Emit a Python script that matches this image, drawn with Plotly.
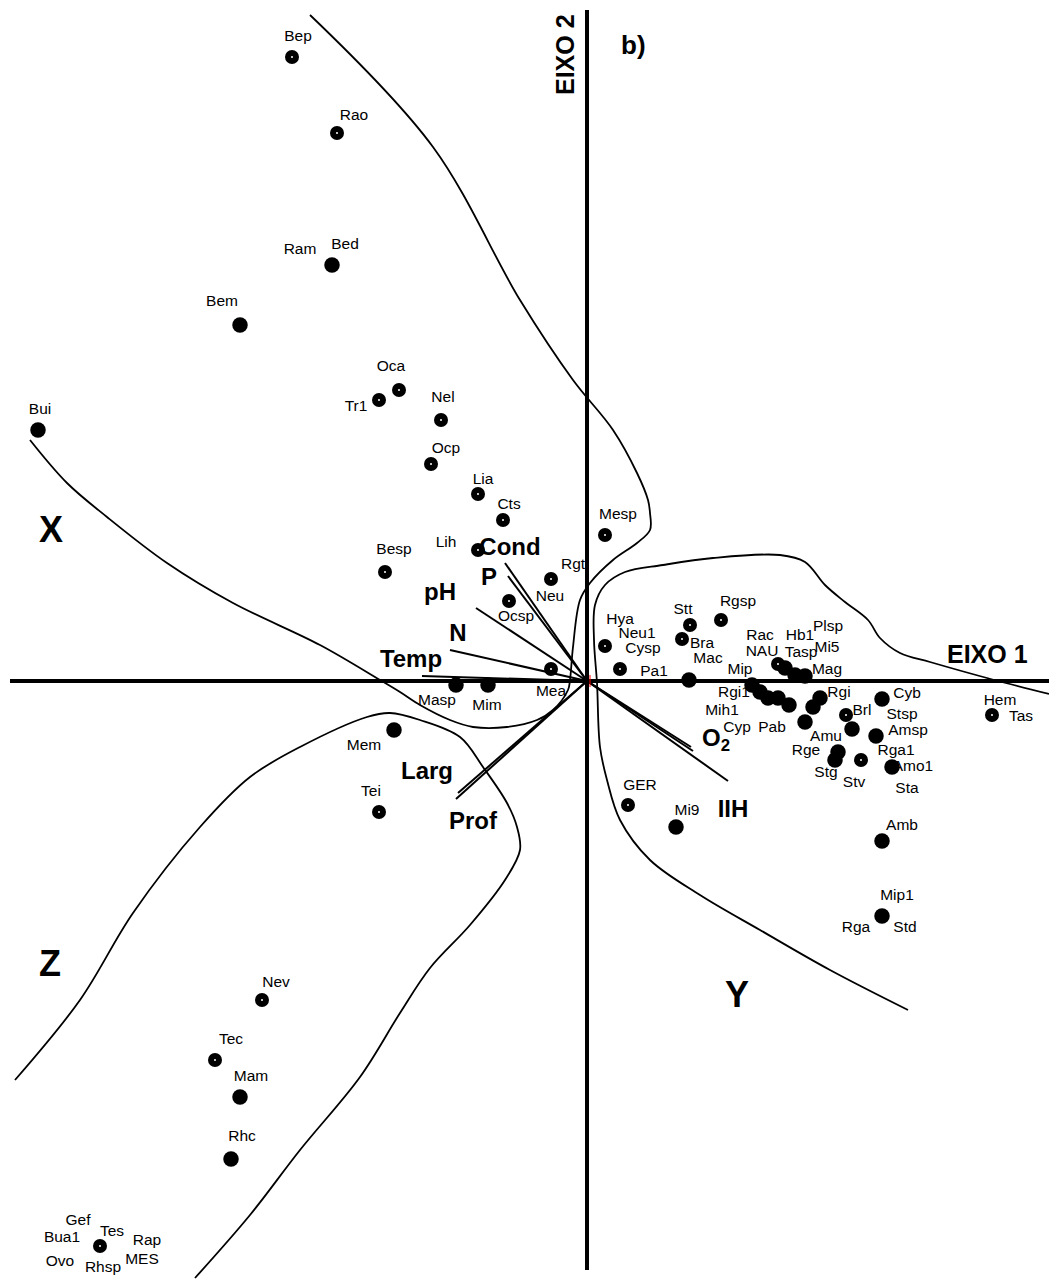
import plotly.graph_objects as go

# --- Ordination scores of the taxa (axis 1, axis 2) ---
taxa_x = [-2.95, -2.50, -2.55, -3.47, -1.88, -2.08, -1.46, -1.56, -1.09, -0.84,
          -5.49, -2.02, -1.09, -0.36, -0.78, 0.18, -0.36, -1.31, -0.99, -1.93,
          -2.08, -3.25, -3.72, -3.47, -3.56, -4.87,
          0.18, 0.33, 1.02, 1.03, 0.95, 1.34,
          1.91, 1.98, 2.08, 2.18,
          1.65, 1.73, 1.81, 1.91, 2.02, 2.26, 2.33, 2.18,
          2.59, 2.95, 2.65, 2.89, 2.48, 2.51, 2.74, 3.05, 4.05, 2.95, 2.95,
          0.41, 0.89]
taxa_y = [6.24, 5.48, 4.16, 3.56, 2.91, 2.81, 2.61, 2.17, 1.87, 1.61,
          2.51, 1.09, 1.31, 1.02, 0.80, 1.46, 0.12, -0.04, -0.04, -0.49,
          -1.31, -3.19, -3.79, -4.16, -4.78, -5.65,
          0.35, 0.12, 0.01, 0.56, 0.42, 0.61,
          0.17, 0.13, 0.06, 0.05,
          -0.04, -0.11, -0.17, -0.17, -0.24, -0.26, -0.17, -0.41,
          -0.34, -0.18, -0.48, -0.55, -0.79, -0.71, -0.79, -0.86, -0.34, -1.60, -2.35,
          -1.24, -1.46]

# --- Taxon codes and where they are written ---
taxa_names = ["Bep", "Rao", "Ram", "Bed", "Bem", "Oca", "Tr1", "Nel", "Ocp", "Lia",
              "Cts", "Bui", "Besp", "Lih", "Rgt", "Neu", "Ocsp", "Mesp", "Mea",
              "Masp", "Mim", "Mem", "Tei", "Nev", "Tec", "Mam", "Rhc",
              "Gef", "Tes", "Bua1", "Rap", "Ovo", "Rhsp", "MES",
              "Hya", "Neu1", "Cysp", "Pa1", "Stt", "Bra", "Mac", "Rgsp",
              "Rac", "NAU", "Mip", "Hb1", "Tasp", "Plsp", "Mi5", "Mag",
              "Rgi1", "Mih1", "Cyp", "Pab", "Rgi", "Brl", "Amu", "Rge", "Stg",
              "Stv", "Cyb", "Stsp", "Amsp", "Rga1", "Amo1", "Sta", "Hem", "Tas",
              "Amb", "Mip1", "Rga", "Std", "GER", "Mi9"]
name_x = [-2.89, -2.33, -2.87, -2.42, -3.65, -1.96, -2.31, -1.44, -1.41, -1.04,
          -0.78, -5.47, -1.93, -1.41, -0.14, -0.37, -0.71, 0.31, -0.36,
          -1.50, -1.00, -2.23, -2.16, -3.11, -3.56, -3.36, -3.45,
          -5.09, -4.75, -5.25, -4.40, -5.27, -4.84, -4.45,
          0.33, 0.50, 0.56, 0.67, 0.96, 1.15, 1.21, 1.51,
          1.73, 1.75, 1.53, 2.13, 2.14, 2.41, 2.40, 2.40,
          1.47, 1.35, 1.50, 1.85, 2.52, 2.75, 2.39, 2.19, 2.39,
          2.67, 3.20, 3.15, 3.21, 3.09, 3.26, 3.20, 4.13, 4.34,
          3.15, 3.10, 2.69, 3.18, 0.53, 1.00]
name_y = [6.44, 5.65, 4.31, 4.36, 3.79, 3.14, 2.74, 2.83, 2.32, 2.01,
          1.76, 2.71, 1.31, 1.38, 1.16, 0.84, 0.64, 1.66, -0.11,
          -0.20, -0.25, -0.65, -1.11, -3.02, -3.59, -3.96, -4.56,
          -5.40, -5.51, -5.57, -5.60, -5.81, -5.87, -5.79,
          0.61, 0.47, 0.32, 0.09, 0.71, 0.37, 0.22, 0.79,
          0.45, 0.29, 0.11, 0.45, 0.28, 0.54, 0.33, 0.11,
          -0.12, -0.30, -0.47, -0.47, -0.12, -0.30, -0.56, -0.70, -0.92,
          -1.02, -0.13, -0.34, -0.50, -0.70, -0.86, -1.08, -0.20, -0.36,
          -1.45, -2.15, -2.47, -2.47, -1.05, -1.30]

# --- Environmental variables (biplot arrows) ---
env_names = ["Cond", "P", "pH", "N", "Temp", "Larg", "Prof", "O<sub>2</sub>", "", "IIH"]
env_x = [-0.82, -0.79, -1.11, -1.37, -1.65, -1.29, -1.31, 1.06, 1.04, 1.41]
env_y = [1.18, 1.05, 0.73, 0.31, 0.05, -1.12, -1.18, -0.70, -0.66, -1.00]
env_label_x = [-0.77, -0.98, -1.47, -1.29, -1.76, -1.60, -1.14, 1.29, None, 1.46]
env_label_y = [1.32, 1.02, 0.87, 0.46, 0.20, -0.92, -1.42, -0.59, None, -1.30]

# --- Group envelopes ---
group_x_u = [-5.57, -5.20, -4.80, -4.20, -3.54, -2.67, -2.07, -1.87, -1.67, -1.37,
             -1.14, -0.80, -0.50, -0.34, -0.19, -0.17, -0.14, -0.07, 0.03, 0.26,
             0.50, 0.63, 0.63, 0.61, 0.50, 0.26, -0.14, -0.67, -1.54, -2.77]
group_x_v = [2.41, 1.98, 1.64, 1.18, 0.78, 0.36, 0.01, -0.11, -0.24, -0.39,
             -0.46, -0.46, -0.39, -0.29, -0.09, 0.01, 0.34, 0.81, 0.98, 1.21,
             1.38, 1.51, 1.68, 1.81, 2.08, 2.51, 3.01, 3.81, 5.34, 6.66]
group_y_u = [3.21, 2.43, 1.73, 1.13, 0.63, 0.33, 0.20, 0.13, 0.10, 0.07, 0.08,
             0.18, 0.38, 0.76, 1.26, 1.93, 2.18, 2.38, 2.58, 2.81, 2.93, 3.13,
             3.43, 4.00, 4.62]
group_y_v = [-3.29, -2.89, -2.49, -2.14, -1.79, -1.39, -0.99, -0.66, -0.02, 0.41,
             0.76, 0.96, 1.09, 1.16, 1.23, 1.26, 1.19, 0.96, 0.79, 0.61, 0.43, 0.28,
             0.19, 0.03, -0.13]
group_z_u = [-5.72, -5.07, -4.54, -3.87, -3.37, -2.87, -2.20, -1.97, -1.67, -1.27,
             -1.04, -0.80, -0.70, -0.67, -0.82, -1.17, -1.57, -1.87, -2.27, -2.87,
             -3.37, -3.92]
group_z_v = [-3.99, -3.19, -2.32, -1.46, -0.96, -0.66, -0.36, -0.32, -0.39, -0.56,
             -0.86, -1.22, -1.46, -1.69, -1.99, -2.44, -2.87, -3.32, -3.96, -4.69,
             -5.34, -5.97]

# --- Group and axis captions ---
group_names = ["X", "Y", "Z"]
group_name_x = [-5.36, 1.50, -5.37]
group_name_y = [1.48, -3.17, -2.86]

FONT = "Liberation Sans, Arial, sans-serif"

# Symbols printed with a small white centre (index into taxa_x / taxa_y)
DOTTED = [0, 1, 4, 5, 6, 7, 8, 9, 11, 12, 13, 14, 15, 16, 20, 21, 22, 25,
          26, 27, 29, 30, 31, 32, 44, 50, 52, 55]
SOLID = [i for i in range(len(taxa_x)) if i not in DOTTED]

fig = go.Figure()

# Ordination axes through the origin
fig.add_trace(go.Scatter(x=[-5.77, 4.62], y=[0, 0], mode="lines",
                         line=dict(color="black", width=4), hoverinfo="skip"))
fig.add_trace(go.Scatter(x=[0, 0], y=[6.71, -5.89], mode="lines",
                         line=dict(color="black", width=4), hoverinfo="skip"))

# Group envelopes
for gx, gy in [(group_x_u, group_x_v), (group_y_u, group_y_v), (group_z_u, group_z_v)]:
    fig.add_trace(go.Scatter(x=gx, y=gy, mode="lines",
                             line=dict(color="black", width=1.8, shape="spline", smoothing=1.0),
                             hoverinfo="skip"))

# Environmental arrows from the origin
for ex, ey in zip(env_x, env_y):
    fig.add_trace(go.Scatter(x=[0, ex], y=[0, ey], mode="lines",
                             line=dict(color="black", width=2), hoverinfo="skip"))

# Small red origin mark
fig.add_trace(go.Scatter(x=[0.03, 0.03], y=[0.06, -0.06], mode="lines",
                         line=dict(color="red", width=1), hoverinfo="skip"))

# Taxa scores
fig.add_trace(go.Scatter(x=[taxa_x[i] for i in SOLID], y=[taxa_y[i] for i in SOLID],
                         mode="markers", marker=dict(color="black", size=15.5),
                         hoverinfo="skip"))
fig.add_trace(go.Scatter(x=[taxa_x[i] for i in DOTTED], y=[taxa_y[i] for i in DOTTED],
                         mode="markers", marker=dict(color="black", size=14),
                         hoverinfo="skip"))
fig.add_trace(go.Scatter(x=[taxa_x[i] for i in DOTTED], y=[taxa_y[i] for i in DOTTED],
                         mode="markers", marker=dict(color="white", size=2),
                         hoverinfo="skip"))

# Taxon codes
fig.add_trace(go.Scatter(x=name_x, y=name_y, text=taxa_names, mode="text",
                         textposition="middle center",
                         textfont=dict(family=FONT, size=15.5, color="black"),
                         hoverinfo="skip"))

# Variable names
lx = [v for v in env_label_x if v is not None]
ly = [v for v in env_label_y if v is not None]
ln = ["<b>%s</b>" % n for n, v in zip(env_names, env_label_x) if v is not None]
fig.add_trace(go.Scatter(x=lx, y=ly, text=ln, mode="text", textposition="middle center",
                         textfont=dict(family=FONT, size=24, color="black"),
                         hoverinfo="skip"))

# Group names
fig.add_trace(go.Scatter(x=group_name_x, y=group_name_y,
                         text=["<b>%s</b>" % g for g in group_names], mode="text",
                         textposition="middle center",
                         textfont=dict(family=FONT, size=36, color="black"),
                         hoverinfo="skip"))

fig.add_annotation(x=4.00, y=0.27, text="<b>EIXO 1</b>", showarrow=False,
                   font=dict(family=FONT, size=25, color="black"))
fig.add_annotation(x=-0.22, y=6.26, text="<b>EIXO 2</b>", showarrow=False, textangle=-90,
                   font=dict(family=FONT, size=25, color="black"))
fig.add_annotation(x=0.46, y=6.36, text="<b>b)</b>", showarrow=False,
                   font=dict(family=FONT, size=26, color="black"))

fig.update_layout(
    width=1049, height=1280,
    margin=dict(l=0, r=0, t=0, b=0),
    paper_bgcolor="white", plot_bgcolor="white",
    showlegend=False,
    xaxis=dict(range=[-5.87, 4.62], visible=False, fixedrange=True),
    yaxis=dict(range=[-5.99, 6.81], visible=False, fixedrange=True),
)

fig.write_html("out.html")
